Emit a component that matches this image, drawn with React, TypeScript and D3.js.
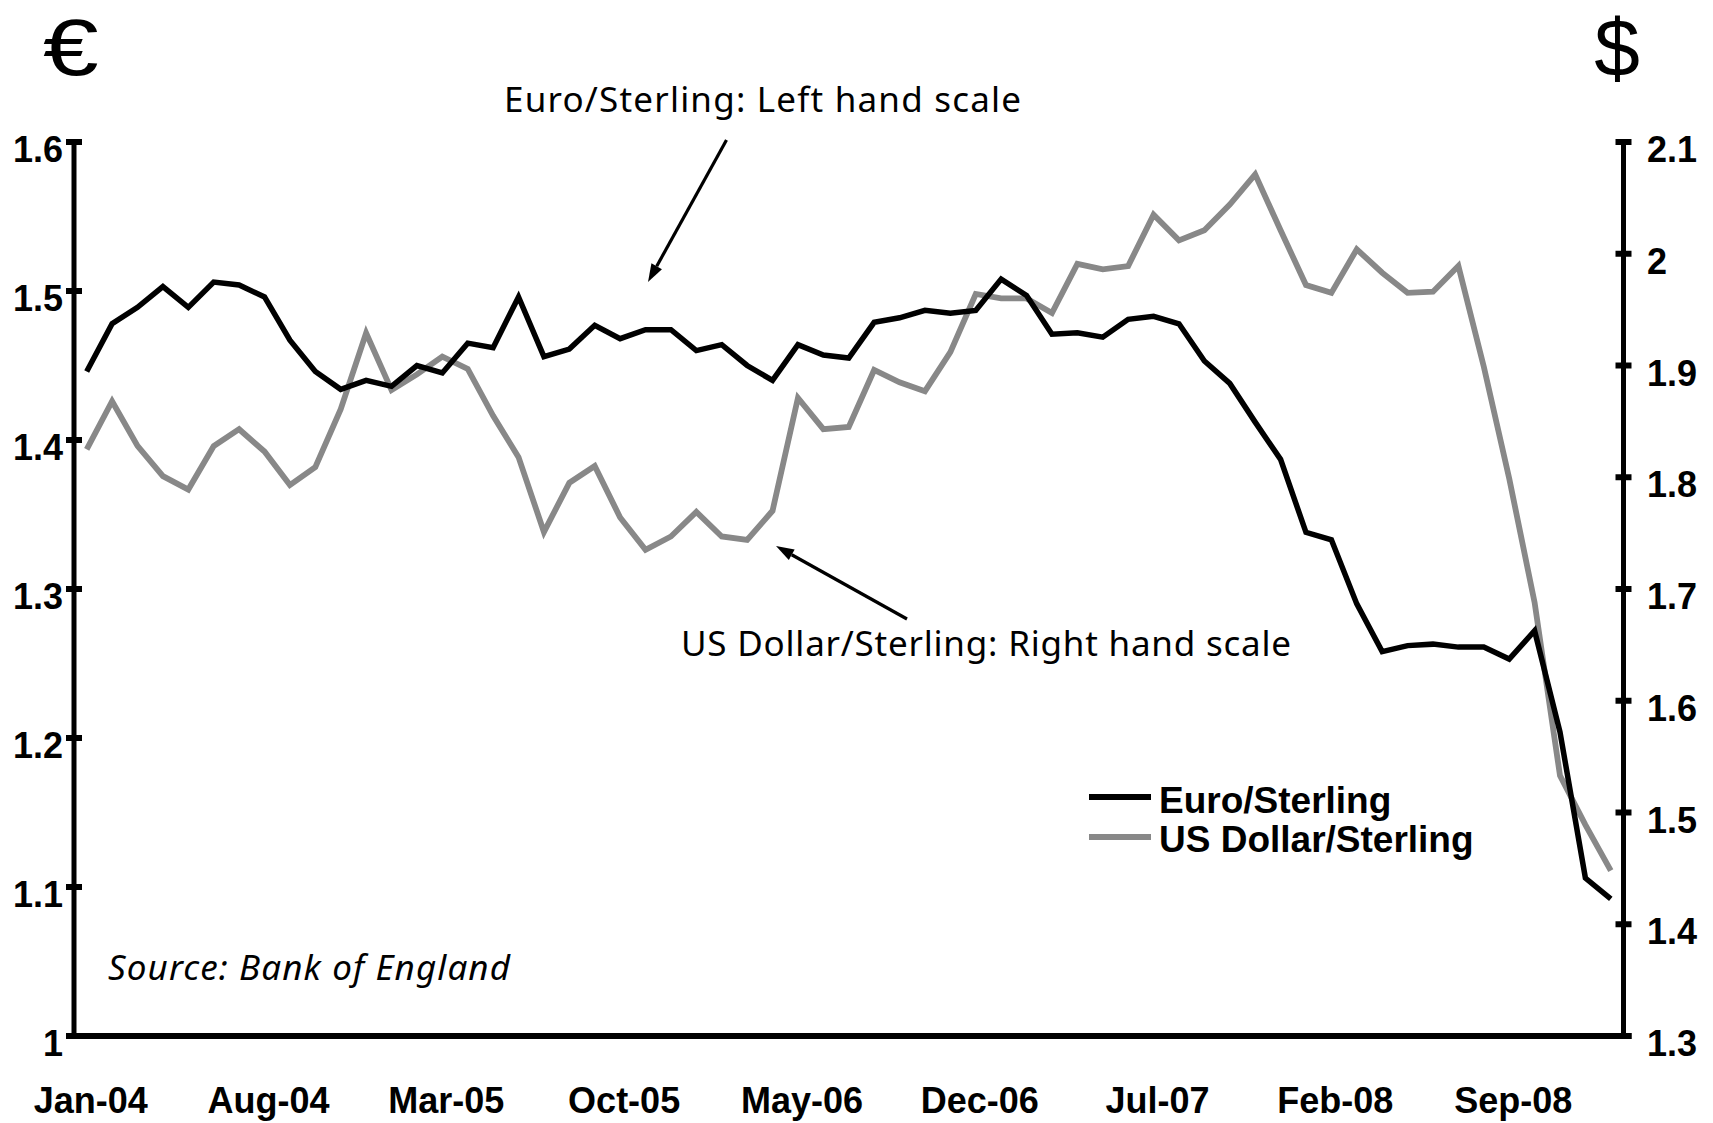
import React from "react";
import * as d3 from "d3";

const months: string[] = d3
  .timeMonths(new Date(2004, 0, 1), new Date(2009, 1, 1))
  .map((d) => d3.timeFormat("%b-%y")(d));

const euroSterling: number[] = [
  1.446, 1.478, 1.489, 1.503, 1.489, 1.506, 1.504, 1.496, 1.467, 1.446, 1.434, 1.44,
  1.436, 1.45, 1.445, 1.465, 1.462, 1.496, 1.456, 1.461, 1.477, 1.468, 1.474, 1.474,
  1.46, 1.464, 1.45, 1.44, 1.464, 1.457, 1.455, 1.479, 1.482, 1.487, 1.485, 1.487,
  1.508, 1.497, 1.471, 1.472, 1.469, 1.481, 1.483, 1.478, 1.453, 1.438, 1.412, 1.387,
  1.338, 1.333, 1.29, 1.258, 1.262, 1.263, 1.261, 1.261, 1.253, 1.272, 1.204, 1.106,
  1.092,
];

const dollarSterling: number[] = [
  1.825, 1.868, 1.828, 1.801, 1.789, 1.828, 1.843, 1.823, 1.793, 1.809, 1.861, 1.929,
  1.878, 1.892, 1.908, 1.897, 1.855, 1.818, 1.751, 1.795, 1.81, 1.764, 1.735, 1.747,
  1.769, 1.747, 1.744, 1.77, 1.871, 1.843, 1.845, 1.896, 1.885, 1.877, 1.912, 1.964,
  1.96, 1.96, 1.947, 1.991, 1.986, 1.989, 2.035, 2.012, 2.021, 2.044, 2.071, 2.021,
  1.972, 1.965, 2.004, 1.983, 1.965, 1.966, 1.989, 1.899, 1.799, 1.688, 1.533, 1.489,
  1.448,
];

const xTickLabels: string[] = [
  "Jan-04", "Aug-04", "Mar-05", "Oct-05", "May-06", "Dec-06", "Jul-07", "Feb-08", "Sep-08",
];
const leftTicks: number[] = [1, 1.1, 1.2, 1.3, 1.4, 1.5, 1.6];
const rightTicks: number[] = [1.3, 1.4, 1.5, 1.6, 1.7, 1.8, 1.9, 2, 2.1];

const W = 1713;
const H = 1123;
const L = 74;
const R = 1623.5;
const T = 142;
const B = 1036;

const BOLD = "'Liberation Sans', Arial, sans-serif";
const HUMAN = "'Noto Sans', 'Open Sans', sans-serif";
const GRAY = "#888888";

function Arrow({ x1, y1, x2, y2 }: { x1: number; y1: number; x2: number; y2: number }) {
  const ang = Math.atan2(y2 - y1, x2 - x1);
  const len = 18;
  const half = 6;
  const bx = x2 - len * Math.cos(ang);
  const by = y2 - len * Math.sin(ang);
  const px = -Math.sin(ang) * half;
  const py = Math.cos(ang) * half;
  return (
    <g>
      <line x1={x1} y1={y1} x2={bx} y2={by} stroke="#000" strokeWidth={3.2} />
      <polygon points={`${x2},${y2} ${bx + px},${by + py} ${bx - px},${by - py}`} fill="#000" />
    </g>
  );
}

export default function App() {
  const x = d3.scaleBand<string>().domain(months).range([L, R]);
  const cx = (m: string) => (x(m) as number) + x.bandwidth() / 2;
  const yL = d3.scaleLinear().domain([1, 1.6]).range([B, T]);
  const yR = d3.scaleLinear().domain([1.3, 2.1]).range([B, T]);

  const lineL = d3
    .line<number>()
    .x((_, i) => cx(months[i]))
    .y((d) => yL(d));
  const lineR = d3
    .line<number>()
    .x((_, i) => cx(months[i]))
    .y((d) => yR(d));

  return (
    <svg
      width={W}
      height={H}
      viewBox={`0 0 ${W} ${H}`}
      style={{ position: "absolute", left: 0, top: 0, background: "#fff" }}
    >
      <rect width={W} height={H} fill="#fff" />
      {/* currency symbols */}
      <text
        x={0}
        y={0}
        transform="translate(43,75) scale(1.25,1)"
        fontFamily={BOLD}
        fontSize={80}
        fill="#000"
      >
        €
      </text>
      <text x={1617} y={76} fontFamily={BOLD} fontSize={82} fill="#000" textAnchor="middle">
        $
      </text>

      {/* axes */}
      <line x1={L} y1={T} x2={L} y2={B} stroke="#000" strokeWidth={5} />
      <line x1={R} y1={T} x2={R} y2={B} stroke="#000" strokeWidth={5} />
      <line x1={L - 8} y1={B} x2={R + 8} y2={B} stroke="#000" strokeWidth={6} />
      {leftTicks.map((t) => (
        <g key={"l" + t}>
          <line x1={L - 8} x2={L + 8} y1={yL(t)} y2={yL(t)} stroke="#000" strokeWidth={6} />
          <text
            x={63}
            y={yL(t) + 20}
            textAnchor="end"
            fontFamily={BOLD}
            fontWeight="bold"
            fontSize={36}
            fill="#000"
          >
            {String(t)}
          </text>
        </g>
      ))}
      {rightTicks.map((t) => (
        <g key={"r" + t}>
          <line x1={R - 8} x2={R + 8} y1={yR(t)} y2={yR(t)} stroke="#000" strokeWidth={6} />
          <text
            x={1647}
            y={yR(t) + 20}
            textAnchor="start"
            fontFamily={BOLD}
            fontWeight="bold"
            fontSize={36}
            fill="#000"
          >
            {String(t)}
          </text>
        </g>
      ))}
      {xTickLabels.map((m) => (
        <text
          key={m}
          x={cx(m) + 4}
          y={1113}
          textAnchor="middle"
          fontFamily={BOLD}
          fontWeight="bold"
          fontSize={36}
          fill="#000"
        >
          {m}
        </text>
      ))}

      {/* series */}
      <path d={lineR(dollarSterling) || ""} fill="none" stroke={GRAY} strokeWidth={5.8} strokeLinejoin="miter" />
      <path d={lineL(euroSterling) || ""} fill="none" stroke="#000" strokeWidth={5.5} strokeLinejoin="miter" />

      {/* annotations */}
      <text
        x={504}
        y={112}
        fontFamily={HUMAN}
        fontSize={35}
        fill="#000"
        textLength={517}
        lengthAdjust="spacing"
      >
        Euro/Sterling: Left hand scale
      </text>
      <Arrow x1={726.5} y1={140} x2={648} y2={282} />
      <text
        x={681}
        y={656}
        fontFamily={HUMAN}
        fontSize={35}
        fill="#000"
        textLength={610}
        lengthAdjust="spacing"
      >
        US Dollar/Sterling: Right hand scale
      </text>
      <Arrow x1={907} y1={619} x2={776} y2={546} />
      <text
        x={108}
        y={980}
        fontFamily={HUMAN}
        fontStyle="italic"
        fontSize={35}
        fill="#000"
        textLength={402}
        lengthAdjust="spacing"
      >
        Source: Bank of England
      </text>

      {/* legend */}
      <line x1={1089} x2={1151} y1={797} y2={797} stroke="#000" strokeWidth={6} />
      <line x1={1089} x2={1151} y1={837} y2={837} stroke={GRAY} strokeWidth={6} />
      <text x={1159} y={813} fontFamily={BOLD} fontWeight="bold" fontSize={37} fill="#000">
        Euro/Sterling
      </text>
      <text x={1159} y={852} fontFamily={BOLD} fontWeight="bold" fontSize={37} fill="#000">
        US Dollar/Sterling
      </text>
    </svg>
  );
}
